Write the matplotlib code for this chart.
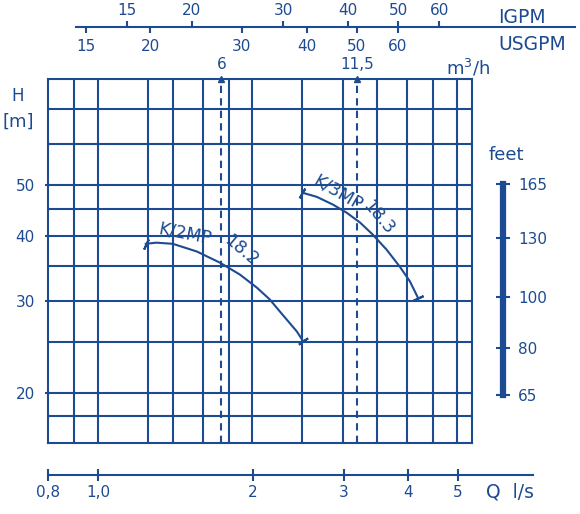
import matplotlib
matplotlib.use('Agg')
import matplotlib.pyplot as plt

BLUE = '#1d4b91'
W, H = 580, 514

# flow grid (l/s) and head grid (m)
grid_q = [0.9, 1.0, 1.25, 1.4, 1.6, 1.8, 2.0, 2.5, 3.0, 3.5, 4.0, 4.5, 5.0]
grid_h = [18, 20, 25, 30, 35, 40, 45, 50, 60, 70]
h_ticks = [20, 30, 40, 50]
q_ticks = [0.8, 1.0, 2, 3, 4, 5]
q_labels = ['0,8', '1,0', '2', '3', '4', '5']
usgpm_ticks = [15, 20, 30, 40, 50, 60]
igpm_ticks = [15, 20, 30, 40, 50, 60]
feet_ticks = [65, 80, 100, 130, 165]

# duty points (position in l/s, label in m3/h)
duty_q = [1.74, 3.2]
duty_labels = ['6', '11,5']

# pump curves
k2_q = [1.24, 1.30, 1.40, 1.56, 1.73, 1.89, 2.04, 2.16, 2.29, 2.44, 2.51]
k2_h = [38.6, 38.8, 38.6, 37.3, 35.5, 33.7, 31.8, 30.2, 28.2, 26.2, 25.1]
k3_q = [2.50, 2.67, 2.87, 3.05, 3.24, 3.43, 3.65, 3.87, 4.05, 4.20]
k3_h = [48.4, 47.5, 45.9, 44.3, 42.4, 40.2, 37.6, 34.9, 32.7, 30.4]

LPS_TO_USGPM = 15.85
LPS_TO_IGPM = 13.2
FT = 0.3048


def px(x, y):
	return x / W, 1 - y / H


plt.rcParams['font.family'] = ['DejaVu Sans']
fig = plt.figure(figsize=(W / 100, H / 100), dpi=100)

# main grid
ax = fig.add_axes([48 / W, 1 - 443 / H, 424 / W, 364 / H])
ax.set_xscale('log')
ax.set_yscale('log')
ax.set_xlim(0.8, 5.35)
ax.set_ylim(16, 80)
for q in grid_q:
	ax.axvline(q, color=BLUE, lw=1.5)
for h in grid_h:
	ax.axhline(h, color=BLUE, lw=1.5)
for s in ax.spines.values():
	s.set_color(BLUE)
	s.set_linewidth(1.5)
ax.minorticks_off()
ax.set_xticks([])
ax.set_yticks(h_ticks)
ax.set_yticklabels([str(v) for v in h_ticks])
ax.tick_params(axis='y', direction='out', length=2.5, width=1.5, color=BLUE,
	labelcolor=BLUE, labelsize=11, pad=7)

# duty lines with arrows
for q, lab in zip(duty_q, duty_labels):
	ax.plot([q, q], [16, 80], color=BLUE, lw=1.5, linestyle=(0, (3.5, 2.5)))
	ax.plot([q], [80], marker='^', ms=5, color=BLUE, clip_on=False)
	ax.annotate(lab, (q, 80), xytext=(0, 7), textcoords='offset points',
		ha='center', va='baseline', color=BLUE, fontsize=11)

# curves
ax.plot(k2_q, k2_h, color=BLUE, lw=1.5)
ax.plot(k3_q, k3_h, color=BLUE, lw=1.5)
ax.plot([k2_q[0]], [k2_h[0]], marker=(2, 2, -25), ms=8, mew=1.5, color=BLUE)
ax.plot([k2_q[-1]], [k2_h[-1]], marker=(2, 2, -55), ms=8, mew=1.5, color=BLUE)
ax.plot([k3_q[0]], [k3_h[0]], marker=(2, 2, -30), ms=8, mew=1.5, color=BLUE)
ax.plot([k3_q[-1]], [k3_h[-1]], marker=(2, 2, -65), ms=8, mew=1.5, color=BLUE)
ax.text(1.48, 40.4, 'K/2MP', rotation=-11, ha='center', va='center', color=BLUE, fontsize=12.5)
ax.text(1.90, 37.4, '18.2', rotation=-40, ha='center', va='center', color=BLUE, fontsize=12.5)
ax.text(2.93, 48.3, 'K/3MP', rotation=-30, ha='center', va='center', color=BLUE, fontsize=12.5)
ax.text(3.52, 43.3, '18.3', rotation=-50, ha='center', va='center', color=BLUE, fontsize=12.5)

# bottom flow axis l/s
axq = fig.add_axes([48 / W, 1 - 475 / H, 485 / W, 1e-4])
axq.set_xscale('log')
axq.set_xlim(0.8, 7.0)
axq.set_yticks([])
for k in ['left', 'right', 'top']:
	axq.spines[k].set_visible(False)
axq.spines['bottom'].set_color(BLUE)
axq.spines['bottom'].set_linewidth(1.5)
axq.minorticks_off()
axq.set_xticks(q_ticks)
axq.set_xticklabels(q_labels)
axq.tick_params(axis='x', direction='inout', length=9, width=1.5, color=BLUE,
	labelcolor=BLUE, labelsize=11, pad=3)

# top axis USGPM / IGPM
top_rect = [76 / W, 1 - 27 / H, 499 / W, 1e-4]
axu = fig.add_axes(top_rect)
axu.set_xscale('log')
axu.set_xlim(0.907, 8.3)
axu.set_yticks([])
for k in ['left', 'right', 'top']:
	axu.spines[k].set_visible(False)
axu.spines['bottom'].set_color(BLUE)
axu.spines['bottom'].set_linewidth(1.5)
axu.minorticks_off()
axu.set_xticks([v / LPS_TO_USGPM for v in usgpm_ticks])
axu.set_xticklabels([str(v) for v in usgpm_ticks])
axu.tick_params(axis='x', direction='out', length=4.5, width=1.5, color=BLUE,
	labelcolor=BLUE, labelsize=11, pad=4)

axi = fig.add_axes(top_rect)
axi.patch.set_visible(False)
axi.set_xscale('log')
axi.set_xlim(0.907, 8.3)
axi.set_yticks([])
for s in axi.spines.values():
	s.set_visible(False)
axi.minorticks_off()
axi.xaxis.tick_top()
axi.set_xticks([v / LPS_TO_IGPM for v in igpm_ticks])
axi.set_xticklabels([str(v) for v in igpm_ticks])
axi.tick_params(axis='x', direction='out', length=4.5, width=1.5, color=BLUE,
	labelcolor=BLUE, labelsize=11, pad=2)

# feet scale
axf = fig.add_axes([500 / W, 1 - 443 / H, 6 / W, 364 / H])
axf.patch.set_visible(False)
axf.set_yscale('log')
axf.set_ylim(16 / FT, 80 / FT)
axf.set_xticks([])
for k in ['left', 'top', 'bottom']:
	axf.spines[k].set_visible(False)
axf.spines['right'].set_position(('axes', 0.5))
axf.spines['right'].set_bounds(feet_ticks[0], feet_ticks[-1])
axf.spines['right'].set_color(BLUE)
axf.spines['right'].set_linewidth(4.5)
axf.yaxis.tick_right()
axf.minorticks_off()
axf.set_yticks(feet_ticks)
axf.set_yticklabels([str(v) for v in feet_ticks])
axf.tick_params(axis='y', direction='inout', length=10, width=1.5, color=BLUE,
	labelcolor=BLUE, labelsize=11, pad=6)

# axis titles
fig.text(*px(18, 96), 'H', ha='center', va='center', color=BLUE, fontsize=12)
fig.text(*px(18, 122), '[m]', ha='center', va='center', color=BLUE, fontsize=13)
fig.text(*px(506, 160), 'feet', ha='center', va='baseline', color=BLUE, fontsize=13)
fig.text(*px(468, 75), 'm$^3$/h', ha='center', va='baseline', color=BLUE, fontsize=13)
fig.text(*px(498, 23), 'IGPM', ha='left', va='baseline', color=BLUE, fontsize=13.5)
fig.text(*px(498, 50), 'USGPM', ha='left', va='baseline', color=BLUE, fontsize=13.5)
fig.text(*px(486, 498), 'Q  l/s', ha='left', va='baseline', color=BLUE, fontsize=13.5)

fig.savefig('out.png', dpi=100)
